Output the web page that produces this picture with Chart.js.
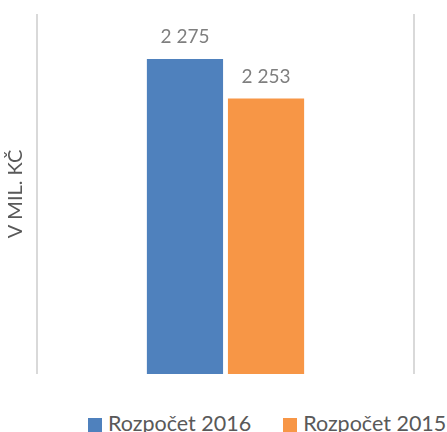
<!DOCTYPE html>
<html>
<head>
<meta charset="utf-8">
<script src="https://cdn.jsdelivr.net/npm/chart.js@4/dist/chart.umd.min.js"></script>
<style>
  html, body { margin: 0; padding: 0; background: #fff; overflow: hidden; }
  #wrap { position: relative; width: 447px; height: 432px; }
  #box { position: absolute; left: 0; top: 0; width: 447px; height: 390px; }
  #legend { position: absolute; left: 88px; top: 410px; white-space: nowrap;
            font-family: Lato, sans-serif; font-size: 21.5px; color: #595959; }
  #legend span.item { display: inline-block; margin-right: 32px; }
  #legend span.sw { display: inline-block; width: 14px; height: 14px; margin-right: 6px; vertical-align: -1px; }
</style>
</head>
<body>
<div id="wrap">
  <div id="box"><canvas id="chart"></canvas></div>
  <div id="legend"></div>
</div>
<script>
// Data
const categories = [''];
const seriesNames = ['Rozpočet 2016', 'Rozpočet 2015'];
const budget2016 = [2275];
const budget2015 = [2253];
const seriesColors = ['#4f81bd', '#f79646'];
const axisTitle = 'V MIL. KČ';

// number like "2 275"
const fmt = v => String(v).replace(/\B(?=(\d{3})+(?!\d))/g, ' ');

// draw value labels above bars
const valueLabels = {
    id: 'valueLabels',
    afterDatasetsDraw(chart) {
        const ctx = chart.ctx;
        ctx.save();
        ctx.font = '19px Lato, sans-serif';
        ctx.fillStyle = '#7f7f7f';
        ctx.textAlign = 'center';
        ctx.textBaseline = 'alphabetic';
        chart.data.datasets.forEach((ds, i) => {
            chart.getDatasetMeta(i).data.forEach((bar, j) => {
                ctx.fillText(fmt(ds.data[j]), bar.x, bar.y - 16);
            });
        });
        ctx.restore();
    }
};

const chart = new Chart(document.getElementById('chart'), {
    type: 'bar',
    data: {
        labels: categories,
        datasets: [
            { label: seriesNames[0], data: budget2016, backgroundColor: seriesColors[0] },
            { label: seriesNames[1], data: budget2015, backgroundColor: seriesColors[1] }
        ]
    },
    options: {
        responsive: true,
        maintainAspectRatio: false,
        animation: false,
        layout: { padding: { top: 14, right: 33, left: 0, bottom: 0 } },
        categoryPercentage: 0.43,
        barPercentage: 0.94,
        plugins: {
            legend: { display: false },
            tooltip: { enabled: false }
        },
        scales: {
            x: {
                offset: true,
                ticks: { display: false },
                border: { display: false },
                grid: { display: true, offset: true, color: '#d9d9d9', lineWidth: 2, drawTicks: false },
                afterFit(scale) { scale.height = 16; }
            },
            y: {
                min: 2100,
                max: 2300,
                ticks: { display: false },
                border: { display: false },
                grid: { display: false },
                title: {
                    display: true,
                    text: axisTitle,
                    color: '#595959',
                    font: { family: 'Lato, sans-serif', size: 20 },
                    padding: { top: 4, bottom: 4 }
                },
                afterFit(scale) { scale.width = 37; }
            }
        }
    },
    plugins: [valueLabels]
});

// legend
const legend = document.getElementById('legend');
seriesNames.forEach((name, i) => {
    const item = document.createElement('span');
    item.className = 'item';
    const sw = document.createElement('span');
    sw.className = 'sw';
    sw.style.background = seriesColors[i];
    item.appendChild(sw);
    item.appendChild(document.createTextNode(name));
    legend.appendChild(item);
});
</script>
</body>
</html>
